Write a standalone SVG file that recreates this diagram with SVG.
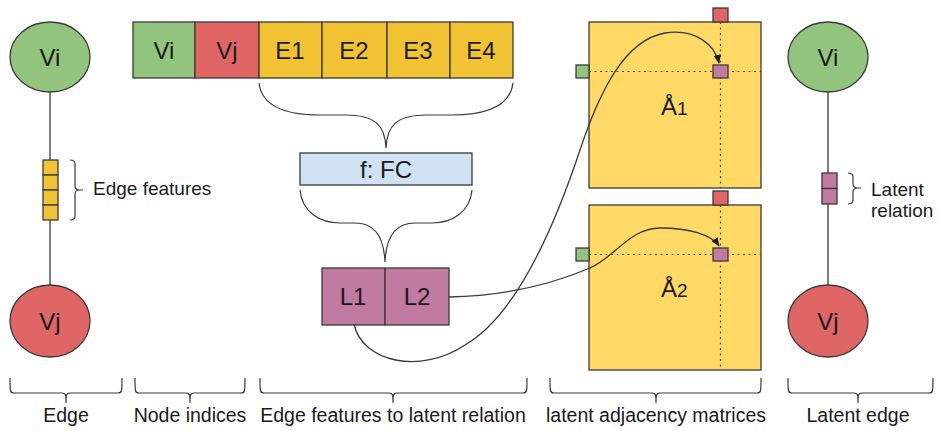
<svg xmlns="http://www.w3.org/2000/svg" width="941" height="431" viewBox="0 0 941 431">
  <defs>
    <style>
      text { font-family: "Liberation Sans", Arial, sans-serif; fill: #1a1a1a; }
      .lbl { font-size: 24px; text-anchor: middle; }
      .cap { font-size: 19.5px; text-anchor: middle; }
      .side { font-size: 19px; }
      .ln { fill: none; stroke: #3a3a3a; stroke-width: 1.3; }
      .br { fill: none; stroke: #3a3a3a; stroke-width: 1.2; }
      .dot { fill: none; stroke: #5a4a2a; stroke-width: 1.2; stroke-dasharray: 2 3.5; }
      .bx { stroke: #3a3a3a; stroke-width: 1.3; }
      .g { fill: #93c47d; }
      .r { fill: #e06666; }
      .y { fill: #f1c232; }
      .ly { fill: #ffd966; }
      .p { fill: #c27ba0; }
      .b { fill: #cfe2f3; }
    </style>
    <marker id="arr" viewBox="0 0 10 10" refX="9" refY="5" markerWidth="7" markerHeight="7" orient="auto">
      <path d="M0,1 L10,5 L0,9 Z" fill="#1a1a1a"/>
    </marker>
  </defs>

  <rect width="941" height="431" fill="#ffffff"/>

  <!-- left edge -->
  <g id="edge-vi">
    <ellipse class="bx g" cx="50" cy="57" rx="40" ry="35"/>
    <text class="lbl" x="50" y="66">Vi</text>
  </g>
  <g id="edge-vj">
    <ellipse class="bx r" cx="50" cy="321" rx="40" ry="36"/>
    <text class="lbl" x="50" y="330">Vj</text>
  </g>
  <g id="edge-features">
    <rect class="bx y" x="43" y="160" width="15" height="15"/>
    <rect class="bx y" x="43" y="175" width="15" height="15"/>
    <rect class="bx y" x="43" y="190" width="15" height="15"/>
    <rect class="bx y" x="43" y="205" width="15" height="15"/>
    <path class="br" d="M70,160 Q75,160 75,164 L75,186 Q75,190 80,190 L83,190 M80,190 Q75,190 75,194 L75,216 Q75,220 70,220"/>
    <text class="side" x="93" y="195">Edge features</text>
  </g>

  <!-- concatenated vector -->
  <g id="vector">
    <rect class="bx g" x="133" y="22" width="62" height="56"/>
    <rect class="bx r" x="195" y="22" width="64" height="56"/>
    <rect class="bx y" x="259" y="22" width="63" height="56"/>
    <rect class="bx y" x="322" y="22" width="65" height="56"/>
    <rect class="bx y" x="387" y="22" width="63" height="56"/>
    <rect class="bx y" x="450" y="22" width="63" height="56"/>
    <text class="lbl" x="164" y="59">Vi</text>
    <text class="lbl" x="227" y="59">Vj</text>
    <text class="lbl" x="290" y="59">E1</text>
    <text class="lbl" x="354" y="59">E2</text>
    <text class="lbl" x="418" y="59">E3</text>
    <text class="lbl" x="481" y="59">E4</text>
  </g>

  <g id="fc">
    <rect class="bx b" x="300" y="153" width="172" height="32"/>
    <text class="lbl" x="386" y="178">f: FC</text>
  </g>

  <g id="latent">
    <rect class="bx p" x="322" y="268" width="63" height="57"/>
    <rect class="bx p" x="385" y="268" width="64" height="57"/>
    <text class="lbl" x="353" y="305">L1</text>
    <text class="lbl" x="417" y="305">L2</text>
  </g>

  <!-- adjacency matrix 1 -->
  <g id="matrix-1">
    <rect class="bx ly" x="589" y="22" width="172" height="166"/>
    <line class="dot" x1="589" y1="71.5" x2="761" y2="71.5"/>
    <line class="dot" x1="720.5" y1="22" x2="720.5" y2="188"/>
    <rect class="bx r" x="713" y="8" width="15" height="14"/>
    <rect class="bx g" x="576" y="65" width="13" height="13"/>
    <rect class="bx p" x="713" y="65" width="15" height="13"/>
    <text x="661" y="115" style="font-size:24px">Å<tspan style="font-size:19px">1</tspan></text>
  </g>

  <!-- adjacency matrix 2 -->
  <g id="matrix-2">
    <rect class="bx ly" x="589" y="205" width="172" height="165"/>
    <line class="dot" x1="589" y1="254.5" x2="761" y2="254.5"/>
    <line class="dot" x1="720.5" y1="205" x2="720.5" y2="370"/>
    <rect class="bx r" x="713" y="191" width="15" height="14"/>
    <rect class="bx g" x="576" y="248" width="13" height="13"/>
    <rect class="bx p" x="713" y="248" width="15" height="13"/>
    <text x="661" y="297" style="font-size:24px">Å<tspan style="font-size:19px">2</tspan></text>
  </g>

  <!-- right latent edge -->
  <g id="latent-vi">
    <ellipse class="bx g" cx="828" cy="57" rx="40" ry="35"/>
    <text class="lbl" x="828" y="66">Vi</text>
  </g>
  <g id="latent-vj">
    <ellipse class="bx r" cx="828" cy="321" rx="40" ry="36"/>
    <text class="lbl" x="828" y="330">Vj</text>
  </g>
  <g id="latent-relation">
    <rect class="bx p" x="822" y="173" width="15" height="15.5"/>
    <rect class="bx p" x="822" y="188.5" width="15" height="15.5"/>
    <path class="br" d="M848,173 Q853,173 853,177 L853,184 Q853,188 858,188 L861,188 M858,188 Q853,188 853,192 L853,200 Q853,204 848,204"/>
    <text class="side" x="871" y="196">Latent</text>
    <text class="side" x="871" y="217">relation</text>
  </g>

  <!-- section captions -->
  <g id="captions">
    <path class="br" d="M10,378 C10,392 10,393 14,393 L62,393 C66,393 66,395 66,403 M66,403 C66,395 66,393 70,393 L118,393 C122,393 122,392 122,378"/>
    <text class="cap" x="66" y="422">Edge</text>
    <path class="br" d="M135,378 C135,392 135,393 139,393 L186,393 C190,393 190,395 190,403 M190,403 C190,395 190,393 194,393 L241,393 C245,393 245,392 245,378"/>
    <text class="cap" x="190" y="422">Node indices</text>
    <path class="br" d="M260,378 C260,392 260,393 264,393 L389,393 C393,393 393,395 393,403 M393,403 C393,395 393,393 397,393 L523,393 C527,393 527,392 527,378"/>
    <text class="cap" x="393" y="422">Edge features to latent relation</text>
    <path class="br" d="M550,378 C550,392 550,393 554,393 L652,393 C656,393 656,395 656,403 M656,403 C656,395 656,393 660,393 L757,393 C761,393 761,392 761,378"/>
    <text class="cap" x="656" y="422">latent adjacency matrices</text>
    <path class="br" d="M788,378 C788,392 788,393 792,393 L854,393 C858,393 858,395 858,403 M858,403 C858,395 858,393 862,393 L929,393 C933,393 933,392 933,378"/>
    <text class="cap" x="858" y="422">Latent edge</text>
  </g>

  <!-- connectors: graph edges, braces and mapping curves (drawn last, on top) -->
  <g id="connectors">
    <line class="ln" x1="50" y1="92" x2="50" y2="160"/>
    <line class="ln" x1="50" y1="220" x2="50" y2="285"/>
    <line class="ln" x1="828" y1="92" x2="828" y2="173"/>
    <line class="ln" x1="828" y1="204" x2="828" y2="285"/>
    <!-- brace: E1..E4 into f -->
    <path class="br" d="M259,83 C262,108 290,115 320,115 L345,115 C375,115 385,125 386,148 C387,125 397,115 427,115 L452,115 C482,115 510,108 513,83"/>
    <!-- brace: f into L1,L2 -->
    <path class="br" d="M300,190 C302,212 320,223 340,223 L355,223 C375,223 384,238 385,262 C386,238 395,223 415,223 L432,223 C452,223 470,212 472,190"/>
    <!-- L1 to matrix 1 -->
    <path class="ln" d="M354,324 C362,362 420,375 465,345 C500,325 540,270 580,150 C600,90 625,40 665,33 C695,28 715,45 719,63" marker-end="url(#arr)"/>
    <!-- L2 to matrix 2 -->
    <path class="ln" d="M449,297 C500,296 550,285 590,268 C615,257 630,228 660,228 C690,228 712,235 719,246" marker-end="url(#arr)"/>
  </g>
</svg>
